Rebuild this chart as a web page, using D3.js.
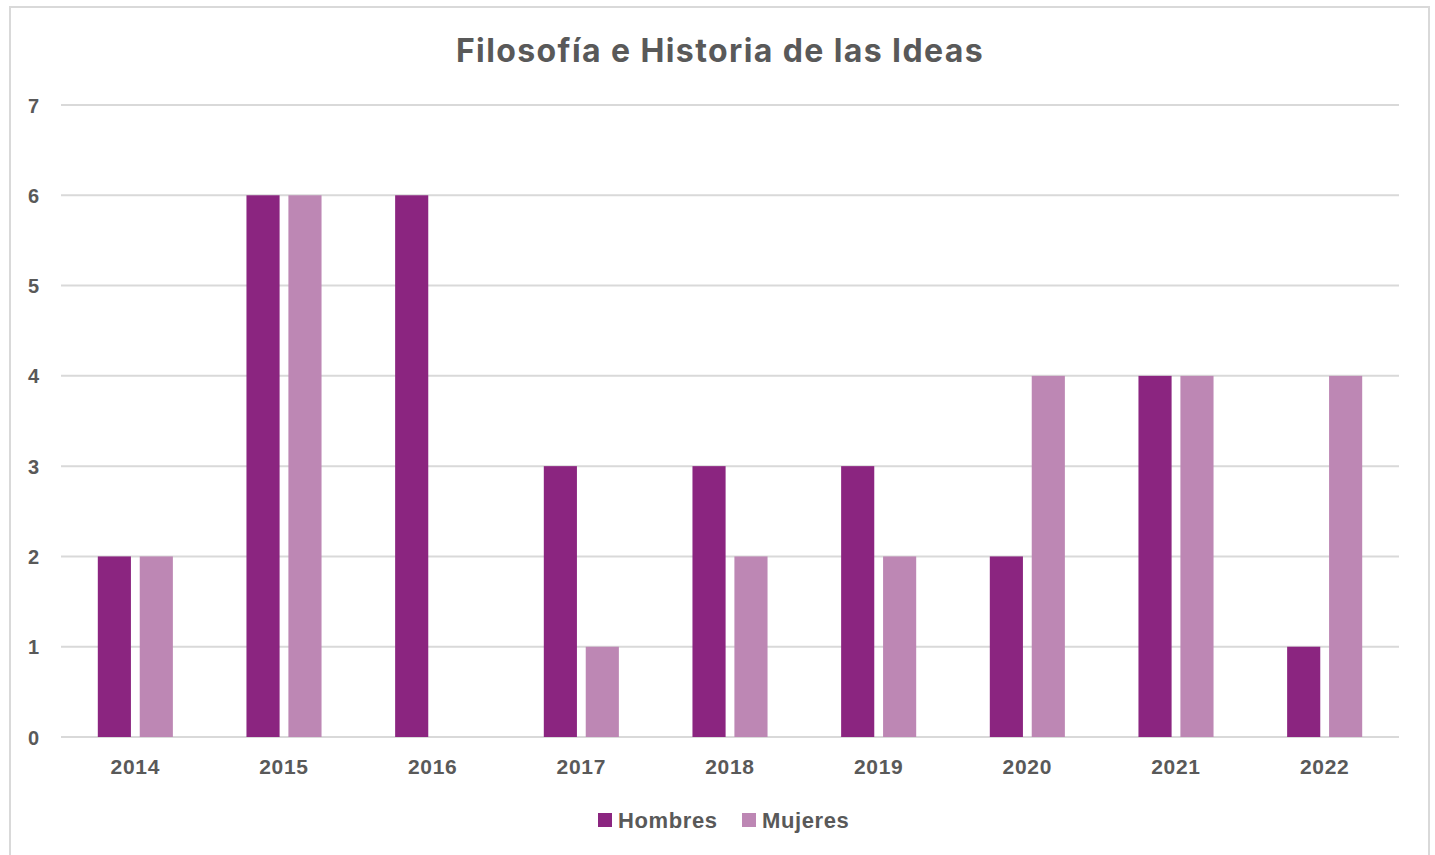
<!DOCTYPE html>
<html>
<head>
<meta charset="utf-8">
<script src="https://cdn.jsdelivr.net/npm/d3@7"></script>
<style>
  body { margin: 0; background: #fff; }
  text { fill: #595959; font-weight: bold; }
</style>
</head>
<body>
<div id="myChart"></div>
<script>
// Data
var years = ['2014', '2015', '2016', '2017', '2018', '2019', '2020', '2021', '2022'];
var hombres = [2, 6, 6, 3, 3, 3, 2, 4, 1];
var mujeres = [2, 6, 0, 1, 2, 2, 4, 4, 4];
var seriesNames = ['Hombres', 'Mujeres'];
var seriesColors = ['#8b2580', '#bd87b4'];
var yTicks = [0, 1, 2, 3, 4, 5, 6, 7];
var title = 'Filosofía e Historia de las Ideas';

var W = 1435, H = 855;
var margin = {top: 105, right: 36, bottom: 118, left: 61},
    width = W - margin.left - margin.right,
    height = H - margin.top - margin.bottom;

var root = d3.select("#myChart")
  .append("svg")
    .attr("width", W)
    .attr("height", H);

// Chart border
root.append("rect")
  .attr("x", 10).attr("y", 7)
  .attr("width", 1419).attr("height", 860)
  .attr("fill", "#fff")
  .attr("stroke", "#d9d9d9")
  .attr("stroke-width", 2);

// Title
root.append("text")
  .attr("x", 720)
  .attr("y", 62)
  .attr("text-anchor", "middle")
  .style("font-family", "Inter, 'Open Sans', sans-serif")
  .style("font-size", "32px")
  .style("letter-spacing", "1.4px")
  .text(title);

var svg = root.append("g")
  .attr("transform", "translate(" + margin.left + "," + margin.top + ")");

// Scales
var x = d3.scaleBand()
  .domain(years)
  .range([0, width])
  .paddingInner(0)
  .paddingOuter(0);

var y = d3.scaleLinear()
  .domain([0, 7])
  .range([height, 0]);

var x1 = d3.scaleBand()
  .domain(seriesNames)
  .range([36.8, x.bandwidth() - 36.8])
  .paddingInner(0.21);

// Gridlines
svg.append("g")
  .selectAll("line")
  .data(yTicks)
  .join("line")
    .attr("x1", 0)
    .attr("x2", width)
    .attr("y1", function(d) { return y(d); })
    .attr("y2", function(d) { return y(d); })
    .attr("stroke", "#d9d9d9")
    .attr("stroke-width", 2);

// Y axis labels
var yAxis = svg.append("g")
  .attr("transform", "translate(-22,0)")
  .call(d3.axisLeft(y).tickValues(yTicks).tickSize(0).tickPadding(0).tickFormat(d3.format("d")));
yAxis.select(".domain").remove();
yAxis.selectAll("text")
  .style("font-family", "'Liberation Sans', Arial, sans-serif")
  .style("font-size", "20px")
  .attr("fill", "#595959")
  .attr("dy", "0.35em");

// X axis labels
var xAxis = svg.append("g")
  .attr("transform", "translate(0," + height + ")")
  .call(d3.axisBottom(x).tickSize(0).tickPadding(22));
xAxis.select(".domain").remove();
xAxis.selectAll("text")
  .style("font-family", "'Liberation Sans', Arial, sans-serif")
  .style("font-size", "21px")
  .style("letter-spacing", "0.7px")
  .attr("fill", "#595959");

// Bars
var rows = years.map(function(yr, i) {
  return {year: yr, values: [hombres[i], mujeres[i]]};
});

var groups = svg.append("g")
  .selectAll("g")
  .data(rows)
  .join("g")
    .attr("transform", function(d) { return "translate(" + x(d.year) + ",0)"; });

groups.selectAll("rect")
  .data(function(d) {
    return d.values.map(function(v, k) { return {name: seriesNames[k], value: v, color: seriesColors[k]}; });
  })
  .join("rect")
    .attr("x", function(d) { return x1(d.name); })
    .attr("width", x1.bandwidth())
    .attr("y", function(d) { return y(d.value); })
    .attr("height", function(d) { return height - y(d.value); })
    .attr("fill", function(d) { return d.color; });

// Legend
var legend = root.append("g");
var legendX = [598, 742];
seriesNames.forEach(function(name, k) {
  legend.append("rect")
    .attr("x", legendX[k])
    .attr("y", 813)
    .attr("width", 14)
    .attr("height", 14)
    .attr("fill", seriesColors[k]);
  legend.append("text")
    .attr("x", legendX[k] + 20)
    .attr("y", 828)
    .style("font-family", "'Liberation Sans', Arial, sans-serif")
    .style("font-size", "22px")
    .style("letter-spacing", "0.6px")
    .text(name);
});
</script>
</body>
</html>
